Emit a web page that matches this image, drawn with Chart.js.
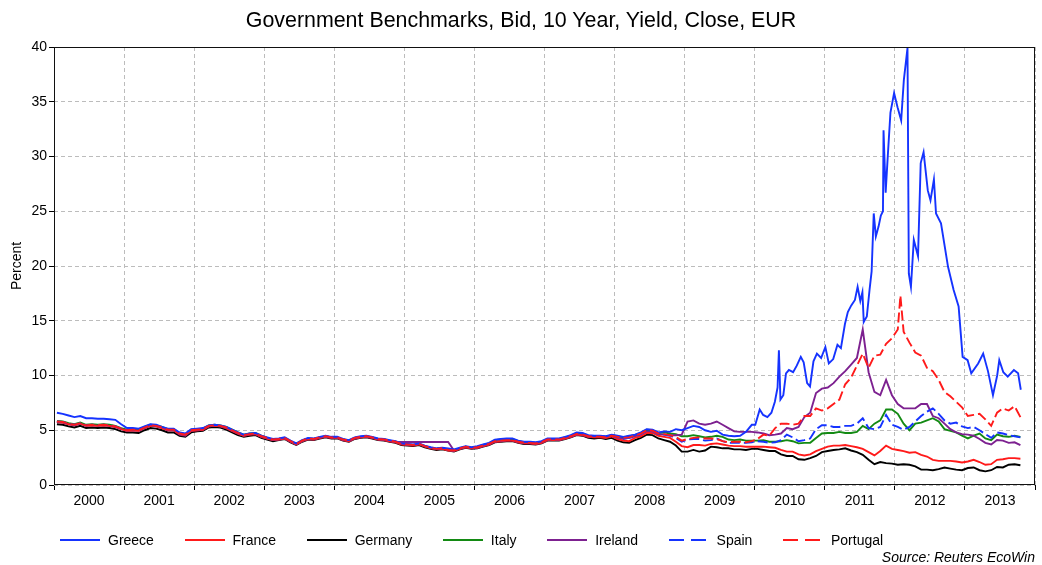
<!DOCTYPE html>
<html><head><meta charset="utf-8">
<script src="https://cdn.jsdelivr.net/npm/chart.js@4.4.1/dist/chart.umd.min.js"></script>
<style>
html,body{margin:0;padding:0;background:#fff;}
#wrap{position:relative;width:1042px;height:565px;font-family:"Liberation Sans",Arial,sans-serif;color:#000;}
#c{position:absolute;left:0;top:0;}
#title{position:absolute;left:0;top:8px;width:1042px;text-align:center;font-size:21.4px;}
#legend{position:absolute;left:60px;top:532px;display:flex;align-items:center;font-size:14px;}
.item{display:flex;align-items:center;margin-right:30.6px;}
.swatch{width:40px;height:2px;margin-right:8px;}
#source{position:absolute;right:7px;top:549px;font-size:14px;font-style:italic;}
</style></head>
<body>
<div id="wrap">
<canvas id="c" width="1042" height="565"></canvas>
<div id="title">Government Benchmarks, Bid, 10 Year, Yield, Close, EUR</div>
<div id="legend"></div>
<div id="source">Source: Reuters EcoWin</div>
</div>
<script>
// ---- categories / ticks ----
const startYear = 2000;
const yearLabels = ['2000','2001','2002','2003','2004','2005','2006','2007','2008','2009','2010','2011','2012','2013'];
const seriesNames = ['Greece','France','Germany','Italy','Ireland','Spain','Portugal'];

// ---- monthly values (Jan 2000 onwards) ----
const greeceMonthly = [
 6.6,6.5,6.35,6.2,6.3,6.1,6.1,6.05,6.05,6.0,5.95,5.55,
 5.2,5.2,5.15,5.35,5.55,5.5,5.3,5.15,5.15,4.8,4.7,5.1,
 5.15,5.2,5.45,5.5,5.45,5.3,5.05,4.8,4.6,4.7,4.75,4.5,
 4.35,4.2,4.25,4.35,4.05,3.8,4.1,4.3,4.25,4.4,4.5,4.4,
 4.4,4.2,4.1,4.35,4.45,4.5,4.4,4.25,4.2,4.1,4.0,3.8,
 3.75,3.7,3.8,3.6,3.45,3.35,3.4,3.35,3.25,3.4,3.55,3.45,
 3.55,3.7,3.85,4.15,4.2,4.25,4.25,4.05,3.95,3.95,3.9,4.0,
 4.25,4.25,4.25,4.4,4.55,4.8,4.75,4.55,4.5,4.5,4.45,4.6,
 4.5,4.4,4.5,4.6,4.8,5.1,5.05,4.8,4.9,4.85,5.1,5.0,
 5.2,5.4,5.3,5.0,4.85,4.95,4.6,4.5,4.45,4.5,4.85,5.5
];
const greeceCrisisDates = [
 '2010-01-04','2010-01-27','2010-02-14','2010-03-08','2010-03-29','2010-04-16','2010-04-30','2010-05-07','2010-05-15','2010-05-30',
 '2010-06-13','2010-06-28','2010-07-20','2010-08-08','2010-08-29','2010-09-13','2010-10-01','2010-10-16','2010-11-03','2010-11-21',
 '2010-12-13','2011-01-04','2011-01-22','2011-02-14','2011-03-08','2011-03-26','2011-04-16','2011-05-01','2011-05-19','2011-06-07',
 '2011-06-21','2011-07-05','2011-07-16','2011-07-23','2011-08-08','2011-08-22','2011-09-02','2011-09-13','2011-09-24','2011-10-08',
 '2011-10-20','2011-10-31','2011-11-03','2011-11-14','2011-11-25','2011-12-09','2011-12-28','2012-01-15','2012-02-03','2012-02-17',
 '2012-03-07','2012-03-14','2012-03-25','2012-04-09','2012-05-01','2012-05-15','2012-05-30','2012-06-21','2012-07-05','2012-07-23',
 '2012-08-03','2012-08-29','2012-10-05','2012-11-03','2012-11-29','2012-12-20','2013-01-15','2013-02-03','2013-03-11','2013-04-06',
 '2013-05-01','2013-05-27','2013-06-18','2013-06-29','2013-07-20','2013-08-12','2013-09-13','2013-10-05','2013-10-19'
];
const greeceCrisisValues = [
 5.5,6.9,6.4,6.2,6.6,7.6,8.9,12.3,7.8,8.2,
 10.2,10.5,10.3,10.9,11.7,11.2,9.3,9.0,11.3,12.0,
 11.6,12.6,11.1,11.5,12.8,12.5,14.7,15.8,16.4,16.9,
 18.1,16.8,17.6,14.9,15.4,17.8,19.5,24.8,22.7,23.6,
 24.6,25.0,32.4,26.7,30.0,34.0,35.8,34.5,33.3,37.0,
 39.9,19.3,18.1,22.4,20.9,29.4,30.4,26.9,26.0,27.9,
 24.8,23.9,19.9,17.8,16.3,11.7,11.4,10.2,11.1,12.0,
 10.4,8.2,10.0,11.4,10.3,9.9,10.5,10.2,8.7
];
const franceMonthly = [
 5.75,5.7,5.55,5.45,5.6,5.4,5.45,5.4,5.45,5.4,5.3,5.1,
 4.95,5.0,4.95,5.2,5.4,5.35,5.2,5.0,5.0,4.65,4.55,4.95,
 5.0,5.05,5.35,5.4,5.35,5.2,4.95,4.7,4.5,4.6,4.65,4.4,
 4.25,4.1,4.15,4.25,3.95,3.7,4.0,4.2,4.15,4.3,4.4,4.3,
 4.3,4.1,4.0,4.25,4.35,4.4,4.3,4.15,4.1,4.0,3.9,3.7,
 3.65,3.6,3.7,3.5,3.35,3.25,3.3,3.15,3.1,3.3,3.45,3.35,
 3.4,3.55,3.7,3.95,4.0,4.05,4.05,3.9,3.8,3.8,3.75,3.85,
 4.1,4.1,4.1,4.25,4.4,4.6,4.55,4.4,4.35,4.35,4.3,4.45,
 4.2,4.05,4.0,4.3,4.45,4.75,4.75,4.5,4.4,4.3,3.95,3.55,
 3.45,3.65,3.65,3.6,3.75,3.8,3.7,3.6,3.55,3.55,3.5,3.5,
 3.5,3.5,3.45,3.4,3.2,3.05,3.05,2.8,2.7,2.8,3.1,3.3,
 3.5,3.6,3.6,3.65,3.55,3.45,3.3,3.0,2.7,3.1,3.6,3.3,
 3.2,3.1,2.95,3.0,2.75,2.6,2.3,2.2,2.2,2.2,2.15,2.05,
 2.15,2.3,2.1,1.85,1.9,2.3,2.35,2.45,2.45,2.4
];
const germanyMonthly = [
 5.55,5.5,5.35,5.25,5.4,5.2,5.25,5.2,5.25,5.2,5.1,4.9,
 4.8,4.8,4.75,5.0,5.2,5.15,5.0,4.8,4.8,4.5,4.4,4.8,
 4.9,4.95,5.25,5.3,5.25,5.05,4.8,4.55,4.4,4.5,4.55,4.3,
 4.15,4.0,4.1,4.2,3.9,3.65,3.95,4.15,4.1,4.25,4.35,4.25,
 4.25,4.05,3.95,4.2,4.3,4.35,4.25,4.1,4.05,3.95,3.85,3.65,
 3.6,3.55,3.65,3.45,3.3,3.2,3.25,3.15,3.05,3.25,3.4,3.3,
 3.35,3.5,3.65,3.9,3.95,4.0,4.0,3.85,3.75,3.75,3.7,3.8,
 4.05,4.05,4.05,4.2,4.35,4.55,4.5,4.3,4.25,4.3,4.2,4.3,
 4.05,3.9,3.85,4.1,4.3,4.6,4.55,4.25,4.1,3.95,3.6,3.05,
 3.05,3.2,3.05,3.15,3.5,3.45,3.35,3.35,3.25,3.25,3.2,3.3,
 3.3,3.2,3.1,3.1,2.8,2.65,2.65,2.35,2.3,2.45,2.65,3.0,
 3.1,3.2,3.25,3.35,3.15,3.0,2.75,2.3,1.9,2.1,2.0,1.95,
 1.85,1.9,1.85,1.7,1.4,1.4,1.35,1.45,1.6,1.5,1.4,1.35,
 1.55,1.6,1.35,1.25,1.35,1.65,1.6,1.85,1.9,1.8
];
const italyMonthly = [
 5.85,5.8,5.65,5.55,5.7,5.5,5.55,5.5,5.55,5.5,5.4,5.2,
 5.05,5.1,5.05,5.3,5.5,5.45,5.3,5.1,5.1,4.75,4.65,5.05,
 5.1,5.15,5.45,5.5,5.45,5.3,5.05,4.8,4.6,4.7,4.75,4.5,
 4.3,4.15,4.2,4.3,4.0,3.75,4.05,4.25,4.2,4.35,4.45,4.35,
 4.35,4.15,4.05,4.3,4.4,4.45,4.35,4.2,4.15,4.05,3.95,3.75,
 3.7,3.65,3.75,3.55,3.4,3.3,3.35,3.2,3.15,3.35,3.5,3.4,
 3.5,3.65,3.8,4.1,4.15,4.2,4.2,4.0,3.9,3.9,3.85,3.95,
 4.2,4.2,4.2,4.35,4.5,4.75,4.7,4.5,4.45,4.45,4.4,4.55,
 4.45,4.35,4.45,4.55,4.75,5.05,5.0,4.75,4.8,4.7,4.65,4.45,
 4.45,4.55,4.45,4.35,4.4,4.5,4.4,4.15,4.1,4.15,4.05,4.05,
 4.05,4.1,3.95,3.95,4.0,4.1,4.0,3.8,3.85,3.85,4.3,4.7,
 4.75,4.75,4.85,4.75,4.75,4.85,5.4,5.1,5.6,5.9,6.9,6.9,
 6.5,5.6,5.0,5.6,5.7,5.9,6.1,5.8,5.1,4.95,4.8,4.5,
 4.25,4.5,4.7,4.25,4.1,4.6,4.45,4.4,4.5,4.4
];
const irelandMonthly = [
 5.75,5.7,5.55,5.45,5.6,5.4,5.45,5.4,5.45,5.4,5.3,5.1,
 4.95,5.0,4.95,5.2,5.4,5.35,5.2,5.0,5.0,4.6,4.5,4.95,
 5.0,5.05,5.35,5.4,5.35,5.2,4.95,4.7,4.5,4.6,4.65,4.4,
 4.25,4.1,4.15,4.25,3.95,3.7,4.0,4.2,4.15,4.3,4.4,4.3,
 4.3,4.1,4.0,4.25,4.35,4.4,4.3,4.15,4.1,4.0,3.93,3.93,
 3.93,3.93,3.93,3.93,3.93,3.93,3.93,3.93,3.15,3.3,3.45,3.35,
 3.4,3.55,3.7,3.95,4.0,4.05,4.05,3.9,3.8,3.8,3.75,3.85,
 4.1,4.1,4.1,4.25,4.4,4.6,4.55,4.4,4.4,4.4,4.4,4.55,
 4.35,4.2,4.3,4.45,4.6,4.9,4.9,4.65,4.6,4.55,4.55,4.6,
 5.8,5.9,5.6,5.5,5.6,5.8,5.5,5.2,4.9,4.85,4.85,4.85,
 4.8,4.7,4.55,4.6,4.7,5.2,5.1,5.3,6.2,6.6,8.4,8.8,
 8.9,9.3,9.9,10.4,11.0,11.6,14.2,10.3,8.5,8.2,9.6,8.2,
 7.4,7.0,7.0,7.0,7.4,7.4,6.3,6.1,5.6,5.1,4.8,4.65,
 4.6,4.5,4.2,3.85,3.7,4.1,4.05,3.85,3.9,3.65
];
const spainMonthly = [
 5.8,5.75,5.6,5.5,5.65,5.45,5.5,5.45,5.5,5.45,5.35,5.15,
 5.0,5.05,5.0,5.25,5.45,5.4,5.25,5.05,5.05,4.7,4.6,5.0,
 5.05,5.1,5.4,5.45,5.4,5.25,5.0,4.75,4.55,4.65,4.7,4.45,
 4.3,4.15,4.2,4.3,4.0,3.75,4.05,4.25,4.2,4.35,4.45,4.35,
 4.35,4.15,4.05,4.3,4.4,4.45,4.35,4.2,4.15,4.05,3.95,3.75,
 3.7,3.65,3.75,3.55,3.4,3.3,3.35,3.2,3.15,3.35,3.5,3.4,
 3.45,3.6,3.75,4.0,4.05,4.1,4.1,3.95,3.85,3.85,3.8,3.9,
 4.15,4.15,4.15,4.3,4.45,4.65,4.6,4.45,4.4,4.4,4.35,4.5,
 4.35,4.25,4.3,4.45,4.65,4.95,4.9,4.65,4.6,4.5,4.3,3.95,
 4.15,4.2,4.2,4.05,4.1,4.25,4.0,3.85,3.85,3.85,3.85,3.9,
 4.0,3.95,3.85,3.9,4.1,4.6,4.35,4.0,4.1,4.25,5.1,5.45,
 5.45,5.3,5.3,5.4,5.4,5.6,6.1,5.2,5.1,5.3,6.4,5.5,
 5.3,5.05,5.3,5.8,6.3,6.7,7.0,6.5,5.9,5.6,5.7,5.35,
 5.2,5.3,5.0,4.65,4.3,4.8,4.7,4.55,4.45,4.35
];
const portugalMonthly = [
 5.8,5.75,5.6,5.5,5.65,5.45,5.5,5.45,5.5,5.45,5.35,5.15,
 5.0,5.05,5.0,5.25,5.45,5.4,5.25,5.05,5.05,4.7,4.6,5.0,
 5.05,5.1,5.4,5.45,5.4,5.25,5.0,4.75,4.55,4.65,4.7,4.45,
 4.3,4.15,4.2,4.3,4.0,3.75,4.05,4.25,4.2,4.35,4.45,4.35,
 4.35,4.15,4.05,4.3,4.4,4.45,4.35,4.2,4.15,4.05,3.95,3.75,
 3.7,3.65,3.75,3.55,3.4,3.3,3.35,3.2,3.15,3.35,3.5,3.4,
 3.45,3.6,3.75,4.0,4.05,4.1,4.1,3.95,3.85,3.85,3.8,3.9,
 4.15,4.15,4.15,4.3,4.45,4.65,4.6,4.45,4.4,4.4,4.35,4.5,
 4.4,4.3,4.35,4.5,4.7,5.0,4.95,4.7,4.65,4.55,4.4,4.05,
 4.2,4.3,4.35,4.25,4.25,4.2,4.0,3.9,3.95,3.95,3.9,4.0,
 4.2,4.6,4.5,5.2,5.6,5.6,5.5,5.6,6.3,6.3,7.0,6.8,
 7.0,7.4,7.8,9.2,9.8,10.9,12.0,10.7,11.8,11.9,12.9,13.4,
 14.2,14.0,13.0,12.1,11.8,10.7,10.4,9.6,8.5,8.1,7.6,7.1,
 6.3,6.4,6.5,6.0,5.4,6.6,7.0,6.8,7.2,6.2
];
const portugalPeakDates = ['2012-01-30'];
const portugalPeakValues = [17.3];

// ---- helpers ----
function monthlyPoints(values){ return values.map((v,i)=>({x: startYear + (i + 0.5)/12, y: v})); }
function datePoints(dates, values){
  return dates.map((d,i)=>{ const t = Date.parse(d+'T00:00:00Z'); const y = +d.slice(0,4);
    const s = Date.UTC(y,0,1), e = Date.UTC(y+1,0,1); return {x: y + (t - s)/(e - s), y: values[i]}; });
}
function merge(a,b){ return a.concat(b).sort((p,q)=>p.x-q.x); }

const blue='#1533ff', red='#ff1a1a', black='#000000', green='#138a13', purple='#7d2190';
const colors = [blue, red, black, green, purple, blue, red];
const dashes = [[],[],[],[],[],[10,4],[10,4]];
const dataSets = [
  merge(monthlyPoints(greeceMonthly), datePoints(greeceCrisisDates, greeceCrisisValues)),
  monthlyPoints(franceMonthly),
  monthlyPoints(germanyMonthly),
  monthlyPoints(italyMonthly),
  monthlyPoints(irelandMonthly),
  monthlyPoints(spainMonthly),
  merge(monthlyPoints(portugalMonthly), datePoints(portugalPeakDates, portugalPeakValues))
];
const drawOrder = [1, 3, 6, 5, 4, 2, 0];

const xTicks = [];
for (let y = 0; y <= yearLabels.length; y++) { xTicks.push(startYear + y); if (y < yearLabels.length) xTicks.push(startYear + y + 0.5); }

const framePlugin = { id:'frame', afterDraw(chart){ const {ctx, chartArea:a} = chart; ctx.save(); ctx.strokeStyle='#111'; ctx.lineWidth=1;
  ctx.strokeRect(a.left+0.5, a.top+0.5, a.right-a.left-1, a.bottom-a.top-1); ctx.restore(); } };

Chart.defaults.font.family = '"Liberation Sans", Arial, sans-serif';
Chart.defaults.color = '#000';

new Chart(document.getElementById('c'), {
  type: 'line',
  data: { datasets: seriesNames.map((n,i)=>({ label:n, data:dataSets[i], borderColor:colors[i], backgroundColor:colors[i],
     borderDash:dashes[i], borderWidth:1.9, pointRadius:0, tension:0, fill:false, order:drawOrder[i] })) },
  options: {
    responsive:false, animation:false, events:[],
    layout:{ padding:{ top:47, right:7, bottom:50, left:0 } },
    plugins:{ legend:{display:false}, title:{display:false}, tooltip:{enabled:false} },
    scales:{
      x:{ type:'linear', min:startYear, max:startYear+yearLabels.length,
          afterBuildTicks: s => { s.ticks = xTicks.map(v=>({value:v})); },
          afterFit: s => { s.height = 30; },
          ticks:{ autoSkip:false, maxRotation:0, padding:3, font:{size:14},
                  callback: v => Number.isInteger(v) ? '' : yearLabels[Math.floor(v)-startYear] },
          grid:{ color: c => Number.isInteger(c.tick && c.tick.value) ? '#bcbcbc' : 'rgba(0,0,0,0)',
                 tickColor: c => Number.isInteger(c.tick && c.tick.value) ? '#000' : 'rgba(0,0,0,0)',
                 tickLength:5, tickBorderDash:[] },
          border:{ display:false, dash:[4,3] } },
      y:{ min:0, max:40,
          afterFit: s => { s.width = 54; },
          ticks:{ stepSize:5, padding:2, font:{size:14} },
          grid:{ color:'#bcbcbc', tickColor:'#000', tickLength:5, tickBorderDash:[] },
          border:{ display:false, dash:[4,3] },
          title:{ display:true, text:'Percent', font:{size:14}, padding:{top:9, bottom:0} } }
    }
  },
  plugins:[framePlugin]
});

// ---- legend (HTML text) ----
const lg = document.getElementById('legend');
seriesNames.forEach((n,i)=>{
  const it = document.createElement('div'); it.className='item';
  const sw = document.createElement('div'); sw.className='swatch';
  sw.style.background = dashes[i].length ? `repeating-linear-gradient(to right, ${colors[i]} 0 15px, transparent 15px 22px)` : colors[i];
  const tx = document.createElement('span'); tx.textContent = n;
  it.appendChild(sw); it.appendChild(tx); lg.appendChild(it);
});
</script>
</body></html>
